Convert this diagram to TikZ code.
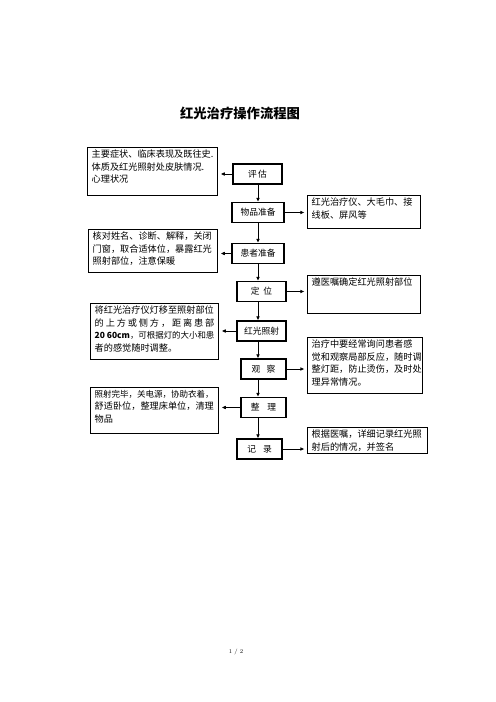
\documentclass[tikz,border=0pt]{standalone}
\usepackage{graphicx}
\usepackage{fontspec}
\newfontfamily\cjk{Noto Sans CJK SC}
\usepackage{tikz}
\usetikzlibrary{arrows.meta,positioning,calc}

\newlength{\pxlen}
\setlength{\pxlen}{1.2pt}
% text block of a note box: width and height in px of the reference
\newcommand{\notetext}[3]{\parbox[t][\dimexpr#2\pxlen-6pt\relax][t]{\dimexpr#1\pxlen-10pt\relax}{#3}}

\begin{document}
\begin{tikzpicture}[
    x=1.2pt, y=-1.2pt,
    note/.style={draw, line width=1.3pt, anchor=north west, inner xsep=5pt, inner ysep=3pt, font=\cjk\fontsize{11}{15}\selectfont},
    stepbox/.style={draw, line width=1.3pt, minimum height=20*1.2pt, inner sep=0pt, font=\cjk\fontsize{10.5}{12}\selectfont},
    arrow/.style={-{Latex[length=5pt,width=4.5pt]}, line width=1.2pt},
    sidearrow/.style={arrow, shorten >=3pt}
]
\useasboundingbox (0,0) rectangle (496,702);

% Title
\node[font=\cjk\bfseries\fontsize{16}{18}\selectfont] (title) at (240,113) {红光治疗操作流程图};

% Main steps
\node[stepbox, minimum width=49*1.2pt] (pg) at (257.5,174) {评\,估};
\node[stepbox, minimum width=52*1.2pt] (wp) at (258,212.5) {物品准备};
\node[stepbox, minimum width=52*1.2pt] (hz) at (258,253.5) {患者准备};
\node[stepbox, minimum width=49*1.2pt] (dw) at (261.5,291.5) {定\hspace{0.45em}位};
\node[stepbox, minimum width=49*1.2pt] (zs) at (261.5,331) {红光照射};
\node[stepbox, minimum width=45*1.2pt] (gc) at (263.5,369) {观\hspace{0.7em}察};
\node[stepbox, minimum width=45*1.2pt] (zl) at (263.5,407.5) {整\hspace{0.9em}理};
\node[stepbox, minimum width=45*1.2pt] (jl) at (259.5,449) {记\hspace{0.8em}录};

% Notes on the left
\node[note] (n1) at (87,147) {\notetext{130}{48}{主要症状、临床表现及既往史.\\体质及红光照射处皮肤情况.\\心理状况}};
\node[note] (n2) at (88,229) {\notetext{129}{43}{核对姓名、诊断、解释，关闭\\门窗，取合适体位，暴露红光\\照射部位，注意保暖}};
\node[note] (n3) at (90,303) {\notetext{128}{56}{将红光治疗仪灯移至照射部位\\\makebox[\linewidth][s]{的 上 方 或 侧 方 ， 距 离 患 部}\\\resizebox{\linewidth}{!}{\textbf{20~60cm}，可根据灯的大小和患}\\者的感觉随时调整。}};
\node[note] (n4) at (90,387) {\notetext{128}{46}{\makebox[\linewidth][l]{\fontsize{10.2}{15}\selectfont 照射完毕，关电源，协助衣着，}\\舒适卧位，整理床单位，清理\\物品}};

% Notes on the right
\node[note] (m1) at (307,195) {\notetext{113}{33}{红光治疗仪、大毛巾、接\\线板、屏风等}};
\node[note] (m2) at (307,275) {\notetext{113}{38}{遵医嘱确定红光照射部位}};
\node[note] (m3) at (307,337) {\notetext{115}{56}{治疗中要经常询问患者感\\觉和观察局部反应，随时调\\整灯距，防止烫伤，及时处\\理异常情况。}};
\node[note] (m4) at (307,427) {\notetext{120}{26}{根据医嘱，详细记录红光照\\射后的情况，并签名}};

% Flow down the steps
\coordinate (spine) at (258,0);
\draw[arrow] (pg.south -| spine) -- (wp.north -| spine);
\draw[arrow] (wp.south -| spine) -- (hz.north -| spine);
\draw[arrow] (hz.south -| spine) -- (dw.north -| spine);
\draw[arrow] (dw.south -| spine) -- (zs.north -| spine);
\draw[arrow] (zs.south -| spine) -- (gc.north -| spine);
\draw[arrow] (gc.south -| spine) -- (zl.north -| spine);
\draw[arrow] (zl.south -| spine) -- (jl.north -| spine);

% Arrows out to the notes
\draw[sidearrow] (pg.west) -- (pg.west -| n1.east);
\draw[sidearrow] (hz.west) -- (hz.west -| n2.east);
\draw[sidearrow] (zs.west) -- (zs.west -| n3.east);
\draw[sidearrow] (zl.west) -- (zl.west -| n4.east);
\draw[sidearrow] (wp.east) -- (wp.east -| m1.west);
\draw[sidearrow] (dw.east) -- (dw.east -| m2.west);
\draw[sidearrow] (gc.east) -- (gc.east -| m3.west);
\draw[sidearrow] (jl.east) -- (jl.east -| m4.west);

% Page number
\node[font=\fontsize{7}{8}\selectfont] (page) at (236,652) {1 / 2};
\end{tikzpicture}
\end{document}
